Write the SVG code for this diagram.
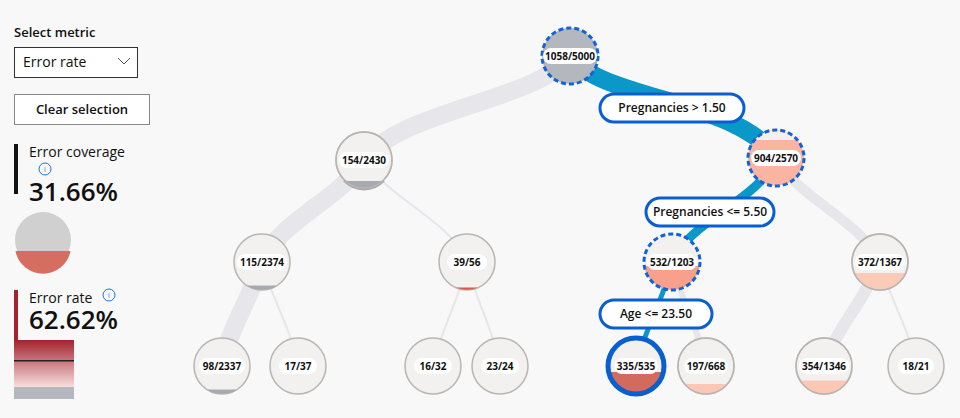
<svg xmlns="http://www.w3.org/2000/svg" width="960" height="418" viewBox="0 0 960 418">
<style>
text{font-family:"Segoe UI","Open Sans","Liberation Sans",sans-serif;fill:#111}
.n{fill:#f2f1f0;stroke:#b9b5b1;stroke-width:1.5}
.sel{fill:none;stroke:#1463d6;stroke-width:3;stroke-dasharray:5 3}
.nl{font-size:10px;font-weight:bold;text-anchor:middle}
.pill{fill:#fff}
.e{fill:none;stroke:#e6e6eb;stroke-linecap:butt}
.eb{fill:none;stroke:#0a98c8}
.lab{fill:#fff;stroke:#0a5fd0;stroke-width:3}
.lt{font-size:12px;font-weight:600;text-anchor:middle}
</style>
<defs>
<linearGradient id="g" x1="0" y1="0" x2="0" y2="1"><stop offset="0" stop-color="#a3232e"/><stop offset="1" stop-color="#f7dede"/></linearGradient>
</defs>
<rect width="960" height="418" fill="#f8f8f8"/>
<g id="panel">
<text x="14" y="37" font-size="13" font-weight="600">Select metric</text>
<rect x="14.5" y="47.5" width="123" height="30" fill="#fff" stroke="#333"/>
<text x="23" y="67" font-size="14">Error rate</text>
<path d="M118 58 L124 64 L130 58" fill="none" stroke="#555"/>
<rect x="14.5" y="94.5" width="135" height="30" fill="#fff" stroke="#888"/>
<text x="82" y="114" font-size="13" font-weight="600" text-anchor="middle">Clear selection</text>
<rect x="14" y="144" width="4" height="50" fill="#111"/>
<text x="29" y="157" font-size="14">Error coverage</text>
<circle cx="45" cy="169" r="6" fill="none" stroke="#1a73d9"/><text x="45" y="172" font-size="7" text-anchor="middle" style="fill:#1a73d9">i</text>
<text x="29" y="201" font-size="26" font-weight="600">31.66%</text>
<circle cx="43" cy="240" r="28" fill="#d0d0d0"/>
<path d="M15.5 251 A28 28 0 0 0 70.5 251 Z" fill="#d56d60"/>
<rect x="14" y="290" width="4" height="50" fill="#a3232e"/>
<text x="29" y="303" font-size="14">Error rate</text>
<circle cx="109" cy="295" r="6" fill="none" stroke="#1a73d9"/><text x="109" y="298" font-size="7" text-anchor="middle" style="fill:#1a73d9">i</text>
<text x="29" y="329" font-size="26" font-weight="600">62.62%</text>
<rect x="14" y="340" width="60" height="47" fill="url(#g)"/>
<rect x="14" y="360" width="60" height="1.5" fill="#222"/>
<rect x="14" y="387" width="60" height="12" fill="#b4b7bd"/>
</g>
<g id="connectors">
<path class="e" stroke-width="18" d="M570 56 C540 100 400 110 364 160"/>
<path class="e" stroke-width="18" d="M364 160 C340 200 280 220 262 262"/>
<path class="e" stroke-width="2" d="M364 160 C390 200 450 220 467 262"/>
<path class="e" stroke-width="10" d="M776 158 C800 200 860 220 880 262"/>
<path class="e" stroke-width="18" d="M262 262 C250 300 228 330 222 366"/>
<path class="e" stroke-width="2" d="M262 262 C272 300 292 330 298 366"/>
<path class="e" stroke-width="2" d="M467 262 C460 300 440 330 433 366"/>
<path class="e" stroke-width="2" d="M467 262 C475 300 494 330 500 366"/>
<path class="e" stroke-width="6" d="M672 262 C680 300 700 330 706 366"/>
<path class="e" stroke-width="12" d="M880 262 C865 300 835 330 824 366"/>
<path class="e" stroke-width="2" d="M880 262 C890 300 910 330 916 366"/>
<path class="eb" stroke-width="18" d="M570 56 C600 100 740 100 776 158"/>
<path class="eb" stroke-width="9" d="M776 158 C760 200 690 220 672 262"/>
<path class="eb" stroke-width="5" d="M672 262 C664 300 644 330 636 366"/>
</g>
<g id="n-root"><circle cx="570" cy="56" r="28" fill="#b4b7bd"/><circle class="sel" cx="570" cy="56" r="28"/><rect class="pill" x="543" y="48" width="54" height="16" rx="8"/><text class="nl" x="570" y="60">1058/5000</text></g>
<g id="n-154"><circle class="n" cx="364" cy="160" r="28"/><path d="M343 181 A28 28 0 0 0 385 181 Z" fill="#a6a9af"/><circle cx="364" cy="160" r="28" fill="none" stroke="#b9b5b1" stroke-width="1.5"/><rect class="pill" x="339" y="152" width="50" height="16" rx="8"/><text class="nl" x="364" y="164">154/2430</text></g>
<g id="n-904"><circle cx="776" cy="158" r="28" fill="#f9b5a2"/><path d="M754.7 140 A28 28 0 0 1 797.3 140 Z" fill="#f2f1f0"/><circle class="sel" cx="776" cy="158" r="28"/><rect class="pill" x="751" y="150" width="50" height="16" rx="8"/><text class="nl" x="776" y="162">904/2570</text></g>
<g id="n-115"><circle class="n" cx="262" cy="262" r="28"/><path d="M247 285.5 A28 28 0 0 0 277 285.5 Z" fill="#a6a9af"/><rect class="pill" x="237" y="254" width="50" height="16" rx="8"/><text class="nl" x="262" y="266">115/2374</text></g>
<g id="n-39"><circle class="n" cx="467" cy="262" r="28"/><path d="M456 287.5 A28 28 0 0 0 478 287.5 Z" fill="#d45a4a"/><rect class="pill" x="447" y="254" width="40" height="16" rx="8"/><text class="nl" x="467" y="266">39/56</text></g>
<g id="n-532"><circle cx="672" cy="262" r="28" fill="#f2f1f0"/><path d="M644.3 266 A28 28 0 0 0 699.7 266 Z" fill="#f9a08c"/><circle class="sel" cx="672" cy="262" r="28"/><rect class="pill" x="647" y="254" width="50" height="16" rx="8"/><text class="nl" x="672" y="266">532/1203</text></g>
<g id="n-372"><circle class="n" cx="880" cy="262" r="28"/><path d="M854.3 273 A28 28 0 0 0 905.7 273 Z" fill="#fbcbb8"/><circle cx="880" cy="262" r="28" fill="none" stroke="#b9b5b1" stroke-width="1.5"/><rect class="pill" x="855" y="254" width="50" height="16" rx="8"/><text class="nl" x="880" y="266">372/1367</text></g>
<g id="n-98"><circle class="n" cx="222" cy="366" r="28"/><path d="M207 389.5 A28 28 0 0 0 237 389.5 Z" fill="#a6a9af"/><rect class="pill" x="199" y="358" width="46" height="16" rx="8"/><text class="nl" x="222" y="370">98/2337</text></g>
<g id="n-17"><circle class="n" cx="298" cy="366" r="28"/><rect class="pill" x="279" y="358" width="38" height="16" rx="8"/><text class="nl" x="298" y="370">17/37</text></g>
<g id="n-16"><circle class="n" cx="433" cy="366" r="28"/><rect class="pill" x="414" y="358" width="38" height="16" rx="8"/><text class="nl" x="433" y="370">16/32</text></g>
<g id="n-23"><circle class="n" cx="500" cy="366" r="28"/><rect class="pill" x="481" y="358" width="38" height="16" rx="8"/><text class="nl" x="500" y="370">23/24</text></g>
<g id="n-335"><circle cx="636" cy="366" r="28" fill="#f2f1f0"/><path d="M608.7 372 A28 28 0 0 0 663.3 372 Z" fill="#d46a5e"/><circle cx="636" cy="366" r="28" fill="none" stroke="#0a5fd0" stroke-width="5"/><rect class="pill" x="614" y="358" width="44" height="16" rx="8"/><text class="nl" x="636" y="370">335/535</text></g>
<g id="n-197"><circle class="n" cx="706" cy="366" r="28"/><path d="M684.5 384 A28 28 0 0 0 727.5 384 Z" fill="#fcc7b5"/><circle cx="706" cy="366" r="28" fill="none" stroke="#b9b5b1" stroke-width="1.5"/><rect class="pill" x="684" y="358" width="44" height="16" rx="8"/><text class="nl" x="706" y="370">197/668</text></g>
<g id="n-354"><circle class="n" cx="824" cy="366" r="28"/><path d="M800 380.5 A28 28 0 0 0 848 380.5 Z" fill="#fcc7b5"/><circle cx="824" cy="366" r="28" fill="none" stroke="#b9b5b1" stroke-width="1.5"/><rect class="pill" x="799" y="358" width="50" height="16" rx="8"/><text class="nl" x="824" y="370">354/1346</text></g>
<g id="n-18"><circle class="n" cx="916" cy="366" r="28"/><rect class="pill" x="898" y="358" width="36" height="16" rx="8"/><text class="nl" x="916" y="370">18/21</text></g>
<g id="labels">
<rect class="lab" x="600" y="94" width="144" height="28" rx="14"/><text class="lt" x="672" y="112">Pregnancies &gt; 1.50</text>
<rect class="lab" x="646" y="198" width="128" height="28" rx="14"/>
<text class="lt" x="710" y="216">Pregnancies &lt;= 5.50</text>
<rect class="lab" x="600" y="300" width="112" height="28" rx="14"/><text class="lt" x="656" y="318">Age &lt;= 23.50</text>
</g>
</svg>
